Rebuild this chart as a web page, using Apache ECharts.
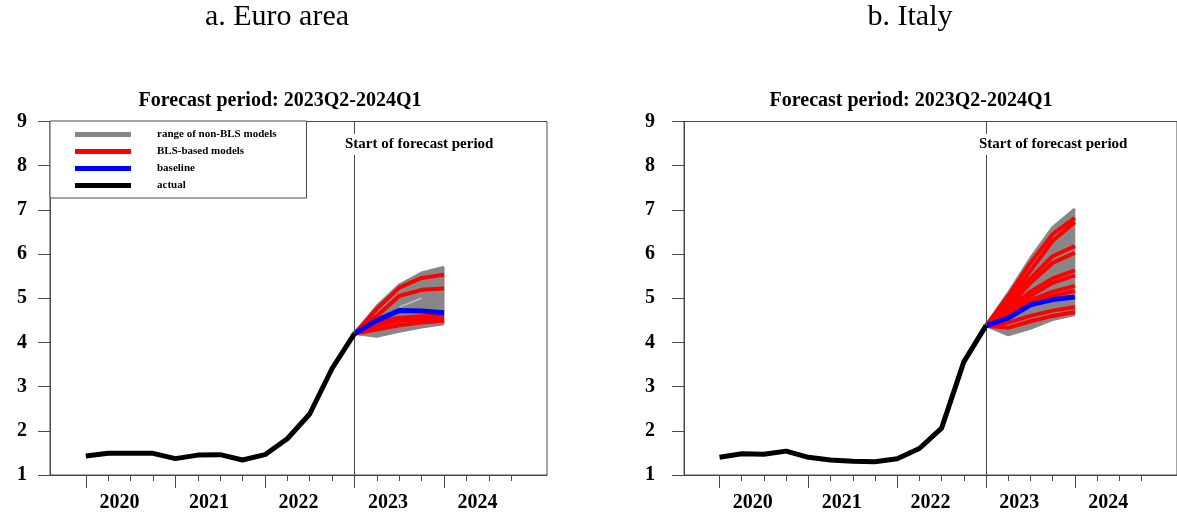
<!DOCTYPE html>
<html>
<head>
<meta charset="utf-8">
<script src="https://cdn.jsdelivr.net/npm/echarts@6/dist/echarts.min.js"></script>
<style>
  html, body { margin: 0; padding: 0; background: #fff; }
  #chart { width: 1177px; height: 513px; }
</style>
</head>
<body>
<div id="chart"></div>
<script>
// ---- data -------------------------------------------------------------
const yearLabels = ['2020', '2021', '2022', '2023', '2024'];

// observed quarters, 2020Q1 .. 2023Q1
const histQuarters = ['2020Q1','2020Q2','2020Q3','2020Q4','2021Q1','2021Q2','2021Q3','2021Q4',
                      '2022Q1','2022Q2','2022Q3','2022Q4','2023Q1'];
const euroActual  = [1.43, 1.49, 1.49, 1.49, 1.37, 1.45, 1.46, 1.34, 1.46, 1.82, 2.38, 3.41, 4.20];
const italyActual = [1.40, 1.48, 1.47, 1.54, 1.40, 1.34, 1.31, 1.30, 1.37, 1.60, 2.06, 3.56, 4.38];

// forecast horizon, anchored at the last observed quarter
const fcQuarters = ['2023Q1', '2023Q2', '2023Q3', '2023Q4', '2024Q1'];

const euroBaseline  = [4.20, 4.50, 4.72, 4.71, 4.67];
const euroRangeLow  = [4.20, 4.14, 4.25, 4.35, 4.42];
const euroRangeHigh = [4.20, 4.82, 5.30, 5.57, 5.70];
const euroGapLine   = [null, null, 4.80, 5.00, null];
const euroBLS = [
  [4.20, 4.76, 5.24, 5.46, 5.53],
  [4.20, 4.60, 5.05, 5.19, 5.22],
  [4.20, 4.45, 4.56, 4.59, 4.61],
  [4.20, 4.38, 4.49, 4.53, 4.55],
  [4.20, 4.29, 4.39, 4.45, 4.49]
];

const italyBaseline  = [4.38, 4.55, 4.85, 4.97, 5.03];
const italyRangeLow  = [4.38, 4.17, 4.32, 4.52, 4.63];
const italyRangeHigh = [4.38, 5.12, 5.90, 6.60, 7.02];
const italyBLS = [
  [4.38, 5.05, 5.80, 6.45, 6.82],
  [4.38, 4.95, 5.62, 6.30, 6.72],
  [4.38, 4.90, 5.45, 5.95, 6.18],
  [4.38, 4.80, 5.35, 5.80, 6.03],
  [4.38, 4.75, 5.15, 5.45, 5.63],
  [4.38, 4.70, 5.05, 5.35, 5.52],
  [4.38, 4.65, 4.95, 5.15, 5.28],
  [4.38, 4.60, 4.90, 5.05, 5.17],
  [4.38, 4.45, 4.60, 4.72, 4.80],
  [4.38, 4.33, 4.48, 4.60, 4.69]
];

// ---- helpers ------------------------------------------------------------
const SERIF = '"Liberation Serif", "Times New Roman", serif';
const AXIS_COLOR = '#4a4a4a';
const GRAY = '#878787', RED = '#ff0000', BLUE = '#0000ff', BLACK = '#000000';

const baseYear = +yearLabels[0];
function qIndex(q) { return (+q.slice(0, 4) - baseYear) * 4 + (+q.slice(5) - 1); }
function pairs(quarters, values) { return quarters.map((q, i) => [qIndex(q), values[i]]); }

const quarterTicks = [], yearTicks = [], yearMids = [];
yearLabels.forEach(y => {
  for (let q = 1; q <= 4; q++) quarterTicks.push(qIndex(y + 'Q' + q));
  yearTicks.push(qIndex(y + 'Q1'));
  yearMids.push((qIndex(y + 'Q1') + qIndex(y + 'Q4')) / 2);
});
const X_MIN = -1.6, X_MAX = 20.6;
const forecastStart = qIndex(fcQuarters[0]);

function xAxes(g) {
  return [
    { type: 'value', gridIndex: g, position: 'bottom', min: X_MIN, max: X_MAX,
      axisLine: { show: true, onZero: false, lineStyle: { color: AXIS_COLOR, width: 1 } },
      axisTick: { show: true, customValues: quarterTicks, length: 6, lineStyle: { color: AXIS_COLOR } },
      axisLabel: { show: false }, splitLine: { show: false } },
    { type: 'value', gridIndex: g, position: 'bottom', min: X_MIN, max: X_MAX,
      axisLine: { show: false, onZero: false },
      axisTick: { show: true, customValues: yearTicks, length: 13, lineStyle: { color: AXIS_COLOR } },
      axisLabel: { show: true, customValues: yearMids, margin: 18,
        formatter: v => yearLabels[Math.round((v - 1.5) / 4)],
        fontFamily: SERIF, fontWeight: 'bold', fontSize: 20, color: '#000' },
      splitLine: { show: false } }
  ];
}
function yAxis(g, margin) {
  return { type: 'value', gridIndex: g, position: 'left', min: 1, max: 9, interval: 1,
    axisLine: { show: true, onZero: false, lineStyle: { color: AXIS_COLOR } },
    axisTick: { show: true, length: 12, lineStyle: { color: AXIS_COLOR } },
    axisLabel: { fontFamily: SERIF, fontWeight: 'bold', fontSize: 20, color: '#000', margin: margin },
    splitLine: { show: false } };
}

// filled band between the lowest and highest non-BLS model paths
function bandItem(params, api) {
  const i = params.dataIndexInside;
  if (i >= params.dataInsideLength - 1) return null;
  const a0 = api.coord([api.value(0, i), api.value(1, i)]);
  const a1 = api.coord([api.value(0, i + 1), api.value(1, i + 1)]);
  const b1 = api.coord([api.value(0, i + 1), api.value(2, i + 1)]);
  const b0 = api.coord([api.value(0, i), api.value(2, i)]);
  return { type: 'polygon', shape: { points: [a0, a1, b1, b0] },
    style: { fill: GRAY, stroke: GRAY, lineWidth: 1 } };
}

function panelSeries(g, actual, low, high, bls, baseline, gapLine) {
  const xi = g * 2, yi = g;
  const out = [];
  out.push({ type: 'custom', name: 'range of non-BLS models', xAxisIndex: xi, yAxisIndex: yi,
    data: fcQuarters.map((q, i) => [qIndex(q), low[i], high[i]]),
    encode: { x: 0, y: [1, 2] }, itemStyle: { color: GRAY },
    renderItem: bandItem, z: 1, silent: true });
  [['non-BLS lowest', low], ['non-BLS highest', high]].forEach(([nm, arr]) => out.push({
    type: 'line', name: nm, xAxisIndex: xi, yAxisIndex: yi,
    data: pairs(fcQuarters, arr), symbol: 'none', color: GRAY,
    lineStyle: { color: GRAY, width: 3 }, z: 1, silent: true }));
  if (gapLine) {
    out.push({ type: 'line', name: 'non-BLS gap', xAxisIndex: xi, yAxisIndex: yi,
      data: pairs(fcQuarters, gapLine), symbol: 'none', color: '#c4c4c4',
      lineStyle: { color: '#c4c4c4', width: 1.5 }, z: 2, silent: true });
  }
  bls.forEach(arr => out.push({ type: 'line', name: 'BLS-based models', xAxisIndex: xi, yAxisIndex: yi,
    data: pairs(fcQuarters, arr), symbol: 'none', color: RED,
    lineStyle: { color: RED, width: 4 }, z: 3, silent: true }));
  out.push({ type: 'line', name: 'baseline', xAxisIndex: xi, yAxisIndex: yi,
    data: pairs(fcQuarters, baseline), symbol: 'none', color: BLUE,
    lineStyle: { color: BLUE, width: 5 }, z: 4, silent: true });
  out.push({ type: 'line', name: 'actual', xAxisIndex: xi, yAxisIndex: yi,
    data: pairs(histQuarters, actual), symbol: 'none', color: BLACK,
    lineStyle: { color: BLACK, width: 5 }, z: 5, silent: true,
    markLine: { silent: true, symbol: ['none', 'none'], label: { show: false },
      lineStyle: { color: AXIS_COLOR, width: 1, type: 'solid' },
      data: [{ xAxis: forecastStart }] } });
  return out;
}

const titleFont = { fontFamily: SERIF, fontWeight: 'bold', fontSize: 20, color: '#000' };
const noteFont  = { fontFamily: SERIF, fontWeight: 'bold', fontSize: 15, color: '#000' };
const headFont  = { fontFamily: SERIF, fontWeight: 'normal', fontSize: 30, color: '#000' };

const option = {
  animation: false,
  backgroundColor: '#fff',
  title: [
    { text: 'a. Euro area', left: 277, top: 2, textAlign: 'center', padding: 0, textStyle: headFont },
    { text: 'b. Italy', left: 910, top: 2, textAlign: 'center', padding: 0, textStyle: headFont },
    { text: 'Forecast period: 2023Q2-2024Q1', left: 280, top: 91, textAlign: 'center', padding: 0, textStyle: titleFont },
    { text: 'Forecast period: 2023Q2-2024Q1', left: 911, top: 91, textAlign: 'center', padding: 0, textStyle: titleFont },
    { text: 'Start of forecast period', left: 343, top: 134, padding: [3, 2], backgroundColor: '#fff', textStyle: noteFont },
    { text: 'Start of forecast period', left: 977, top: 134, padding: [3, 2], backgroundColor: '#fff', textStyle: noteFont }
  ],
  legend: {
    orient: 'vertical', left: 50, top: 121, selectedMode: false,
    icon: 'rect', itemWidth: 56, itemHeight: 5, itemGap: 4,
    padding: [7, 30, 6, 25], borderColor: AXIS_COLOR, borderWidth: 1, backgroundColor: '#fff',
    textStyle: { fontFamily: SERIF, fontWeight: 'bold', fontSize: 11, color: '#000', lineHeight: 13, padding: [0, 0, 0, 21] },
    data: [
      { name: 'range of non-BLS models', itemStyle: { color: GRAY } },
      { name: 'BLS-based models', itemStyle: { color: RED } },
      { name: 'baseline', itemStyle: { color: BLUE } },
      { name: 'actual', itemStyle: { color: BLACK } }
    ]
  },
  grid: [
    { left: 50, top: 121.5, width: 497, height: 356, show: true, borderColor: AXIS_COLOR, borderWidth: 1, containLabel: false },
    { left: 684, top: 121.5, width: 497, height: 356, show: true, borderColor: AXIS_COLOR, borderWidth: 1, containLabel: false }
  ],
  xAxis: [...xAxes(0), ...xAxes(1)],
  yAxis: [yAxis(0, 23), yAxis(1, 29)],
  series: [
    ...panelSeries(0, euroActual, euroRangeLow, euroRangeHigh, euroBLS, euroBaseline, euroGapLine),
    ...panelSeries(1, italyActual, italyRangeLow, italyRangeHigh, italyBLS, italyBaseline, null)
  ]
};

const chart = echarts.init(document.getElementById('chart'), null, { renderer: 'canvas' });
chart.setOption(option);
</script>
</body>
</html>
